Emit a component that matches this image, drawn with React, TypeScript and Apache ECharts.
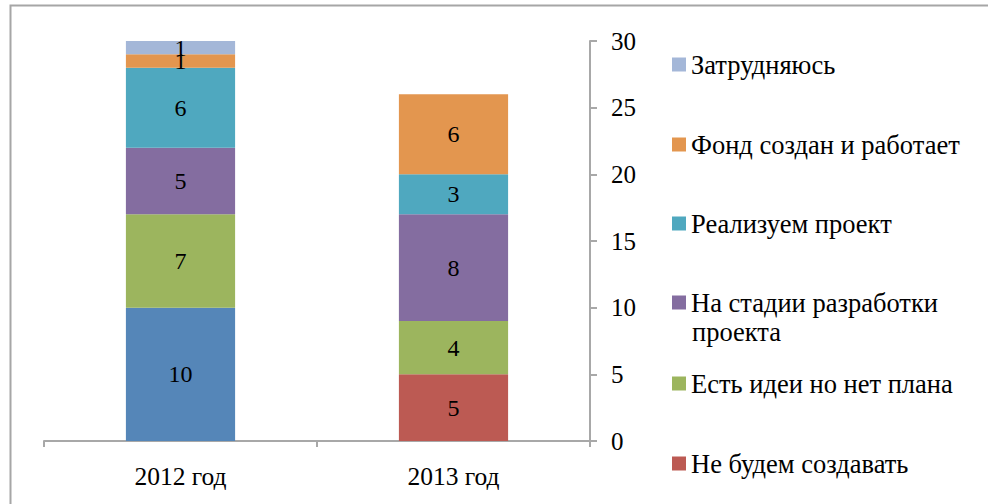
import React, { useEffect, useRef } from "react";
import * as echarts from "echarts";

const categories = ["2012 год", "2013 год"];
const yTicks = { min: 0, max: 30, interval: 5 };

const nameBlue = "Нет ответа";
const nameRed = "Не будем создавать";
const nameGreen = "Есть идеи но нет плана";
const namePurple = "На стадии разработки проекта";
const nameTeal = "Реализуем проект";
const nameOrange = "Фонд создан и работает";
const nameLight = "Затрудняюсь";

const valuesBlue: (number | null)[] = [10, null];
const valuesRed: (number | null)[] = [null, 5];
const valuesGreen: (number | null)[] = [7, 4];
const valuesPurple: (number | null)[] = [5, 8];
const valuesTeal: (number | null)[] = [6, 3];
const valuesOrange: (number | null)[] = [1, 6];
const valuesLight: (number | null)[] = [1, null];

const FONT = "Liberation Serif";

export default function App() {
  const ref = useRef<HTMLDivElement>(null);
  useEffect(() => {
    if (!ref.current) return;
    const chart = echarts.init(ref.current, null, { renderer: "svg" });

    const seriesDefs = [
      { name: nameBlue, data: valuesBlue, color: "#5586B8" },
      { name: nameRed, data: valuesRed, color: "#BC5A53" },
      { name: nameGreen, data: valuesGreen, color: "#9CB55E" },
      { name: namePurple, data: valuesPurple, color: "#846DA0" },
      { name: nameTeal, data: valuesTeal, color: "#4FA8BF" },
      { name: nameOrange, data: valuesOrange, color: "#E3964F" },
      { name: nameLight, data: valuesLight, color: "#A4B7D8" },
    ];

    const legendItems: [string, number, string | null][] = [
      [nameLight, 51, null],
      [nameOrange, 131, null],
      [nameTeal, 210, null],
      [namePurple, 289, "На стадии разработки"],
      [nameGreen, 370, null],
      [nameRed, 450, null],
    ];

    const legends = legendItems.map(([name, top, label]) => ({
      data: [name],
      left: 672,
      top,
      orient: "vertical",
      itemWidth: 14,
      itemHeight: 14,
      padding: 0,
      selectedMode: false,
      icon: "rect",
      formatter: label ? () => label : undefined,
      textStyle: { fontFamily: FONT, fontSize: 26.5, color: "#000" },
    }));

    chart.setOption({
      animation: false,
      backgroundColor: "#fff",
      textStyle: { fontFamily: FONT },
      grid: { left: 44, right: 398, top: 41, bottom: 63, outerBoundsMode: "none" },
      legend: legends,
      graphic: [
        {
          type: "rect",
          shape: { x: 10.5, y: 5.5, width: 1000, height: 600 },
          style: { fill: "none", stroke: "#A6A6A6", lineWidth: 2 },
          silent: true,
        },
        {
          type: "text",
          left: 692,
          top: 318,
          style: { text: "проекта", fontFamily: FONT, fontSize: 26.5, fill: "#000" },
        },
      ],
      xAxis: {
        type: "category",
        data: categories,
        axisLine: { lineStyle: { color: "#A8A8A8", width: 2 } },
        axisTick: { show: true, length: 6, lineStyle: { color: "#A8A8A8", width: 2 } },
        axisLabel: { fontFamily: FONT, fontSize: 25.5, color: "#000", margin: 22 },
      },
      yAxis: {
        type: "value",
        position: "right",
        min: yTicks.min,
        max: yTicks.max,
        interval: yTicks.interval,
        splitLine: { show: false },
        axisLine: { show: true, lineStyle: { color: "#A8A8A8", width: 2 } },
        axisTick: { show: true, length: 7, lineStyle: { color: "#A8A8A8", width: 2 } },
        axisLabel: { fontFamily: FONT, fontSize: 25, color: "#000", margin: 21 },
      },
      series: seriesDefs.map((s) => ({
        type: "bar",
        name: s.name,
        stack: "total",
        barWidth: "40%",
        data: s.data,
        itemStyle: { color: s.color },
        label: {
          show: true,
          position: "inside",
          fontFamily: FONT,
          fontSize: 24,
          color: "#000",
        },
      })),
    });
    return () => chart.dispose();
  }, []);
  return (
    <div
      ref={ref}
      style={{ position: "absolute", left: 0, top: 0, width: 988, height: 504 }}
    />
  );
}
